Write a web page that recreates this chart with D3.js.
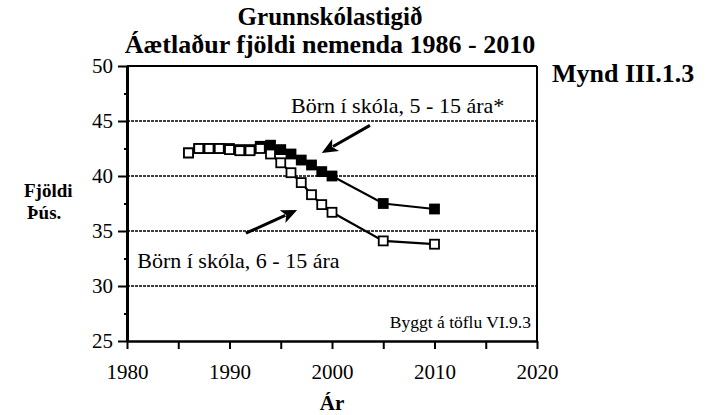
<!DOCTYPE html>
<html>
<head>
<meta charset="utf-8">
<script src="https://cdn.jsdelivr.net/npm/d3@7"></script>
<style>
  body { margin: 0; background: #fff; }
  text { font-family: "Liberation Serif", "Times New Roman", serif; fill: #000; }
</style>
</head>
<body>
<div id="chart-area"></div>
<script>
// data
const years = [1986, 1987, 1988, 1989, 1990, 1991, 1992, 1993, 1994, 1995, 1996, 1997, 1998, 1999, 2000, 2005, 2010];
const born5to15 = [42.1, 42.5, 42.5, 42.5, 42.5, 42.4, 42.4, 42.7, 42.8, 42.4, 42.0, 41.45, 41.0, 40.4, 40.0, 37.5, 37.0];
const born6to15 = [42.1, 42.5, 42.5, 42.5, 42.4, 42.3, 42.3, 42.5, 42.0, 41.2, 40.3, 39.4, 38.3, 37.4, 36.7, 34.1, 33.8];
const xTicks = [1980, 1990, 2000, 2010, 2020];
const yTicks = [25, 30, 35, 40, 45, 50];

// canvas
const canvasWidth = 714;
const canvasHeight = 415;
const margin = { top: 66, bottom: 74, left: 127, right: 177 };
const width = canvasWidth - margin.left - margin.right;
const height = canvasHeight - margin.top - margin.bottom;

const root = d3.select("#chart-area")
	.append("svg")
		.attr("width", canvasWidth)
		.attr("height", canvasHeight);

const svg = root.append("g")
	.attr("transform", `translate(${margin.left}, ${margin.top})`);

// scales
const xScale = d3.scaleLinear().domain([1980, 2020]).range([0, width]);
const yScale = d3.scaleLinear().domain([25, 50]).range([height, 0]);

// gridlines
svg.append("g")
	.selectAll("line")
	.data(yTicks.filter(d => d > 25 && d < 50))
	.enter().append("line")
		.attr("x1", 0).attr("x2", width)
		.attr("y1", d => yScale(d)).attr("y2", d => yScale(d))
		.attr("stroke", "#000")
		.attr("stroke-width", 1.6)
		.attr("stroke-dasharray", "3,1");

// frame top and right
svg.append("line")
	.attr("x1", 0).attr("x2", width)
	.attr("y1", 0).attr("y2", 0)
	.attr("stroke", "#000").attr("stroke-width", 2);
svg.append("line")
	.attr("x1", width).attr("x2", width)
	.attr("y1", 0).attr("y2", height)
	.attr("stroke", "#000").attr("stroke-width", 2);

// X axis
const xAxis = d3.axisBottom(xScale)
	.tickValues(d3.range(1980, 2021, 5))
	.tickSize(8)
	.tickSizeOuter(0)
	.tickFormat(d => xTicks.includes(d) ? d : "");

const gx = svg.append("g")
	.attr("transform", `translate(0,${height})`)
	.call(xAxis);
gx.select(".domain").attr("stroke-width", 2.5);
gx.selectAll(".tick line").attr("stroke-width", 2);
gx.selectAll(".tick text")
	.attr("font-family", "Liberation Serif")
	.attr("font-size", 21)
	.attr("y", 38)
	.attr("dy", 0);

// Y axis
const yAxis = d3.axisLeft(yScale)
	.tickValues(d3.range(25, 50.1, 2.5))
	.tickSize(8)
	.tickSizeOuter(0)
	.tickFormat(d => yTicks.includes(d) ? d : "");

const gy = svg.append("g").call(yAxis);
gy.select(".domain").attr("stroke-width", 3);
gy.selectAll(".tick line")
	.attr("stroke-width", 2)
	.attr("x1", d => yTicks.includes(d) ? 0 : 2)
	.attr("x2", d => yTicks.includes(d) ? -9 : -3);
gy.selectAll(".tick text")
	.attr("font-family", "Liberation Serif")
	.attr("font-size", 21)
	.attr("x", -14);

// lines
const line = d3.line()
	.x((d, i) => xScale(years[i]))
	.y(d => yScale(d));

const series = [
	{ values: born5to15, fill: "#000" },
	{ values: born6to15, fill: "#fff" }
];

series.forEach(s => {
	svg.append("path")
		.datum(s.values)
		.attr("d", line)
		.attr("fill", "none")
		.attr("stroke", "#000")
		.attr("stroke-width", 2.2);
});

series.forEach(s => {
	svg.append("g")
		.selectAll("rect")
		.data(s.values)
		.enter().append("rect")
			.attr("x", (d, i) => xScale(years[i]) - 4.5)
			.attr("y", d => yScale(d) - 4.5)
			.attr("width", 9)
			.attr("height", 9)
			.attr("fill", s.fill)
			.attr("stroke", "#000")
			.attr("stroke-width", 1.8);
});

// annotations with arrows
const arrows = [
	{ from: [2003.7, 44.6], to: [1999.0, 42.1] },
	{ from: [1991.6, 34.8], to: [1996.6, 36.9] }
];

arrows.forEach(a => {
	const x1 = xScale(a.from[0]), y1 = yScale(a.from[1]);
	const x2 = xScale(a.to[0]), y2 = yScale(a.to[1]);
	const ang = Math.atan2(y2 - y1, x2 - x1);
	const len = 16, wid = 7;
	const bx = x2 - len * Math.cos(ang), by = y2 - len * Math.sin(ang);
	svg.append("line")
		.attr("x1", x1).attr("y1", y1)
		.attr("x2", bx + 3 * Math.cos(ang)).attr("y2", by + 3 * Math.sin(ang))
		.attr("stroke", "#000").attr("stroke-width", 3);
	svg.append("polygon")
		.attr("points", [
			[x2, y2],
			[bx + wid * Math.sin(ang), by - wid * Math.cos(ang)],
			[bx + 4 * Math.cos(ang), by + 4 * Math.sin(ang)],
			[bx - wid * Math.sin(ang), by + wid * Math.cos(ang)]
		].map(p => p.join(",")).join(" "))
		.attr("fill", "#000");
});

svg.append("text")
	.attr("x", xScale(1996.0))
	.attr("y", yScale(45.7))
	.attr("font-size", 22)
	.text("Börn í skóla, 5 - 15 ára*");

svg.append("text")
	.attr("x", xScale(1981.0))
	.attr("y", yScale(31.6))
	.attr("font-size", 22)
	.text("Börn í skóla, 6 - 15 ára");

svg.append("text")
	.attr("x", width - 6)
	.attr("y", yScale(26.2))
	.attr("text-anchor", "end")
	.attr("font-size", 17.5)
	.text("Byggt á töflu VI.9.3");

// titles
root.append("text")
	.attr("x", 330).attr("y", 25)
	.attr("text-anchor", "middle")
	.attr("font-size", 25).attr("font-weight", "bold")
	.text("Grunnskólastigið");

root.append("text")
	.attr("x", 330).attr("y", 53)
	.attr("text-anchor", "middle")
	.attr("font-size", 26).attr("font-weight", "bold")
	.text("Áætlaður fjöldi nemenda 1986 - 2010");

root.append("text")
	.attr("x", 552).attr("y", 82)
	.attr("font-size", 26).attr("font-weight", "bold")
	.text("Mynd III.1.3");

root.append("text")
	.attr("x", 24).attr("y", 197)
	.attr("font-size", 19).attr("font-weight", "bold")
	.text("Fjöldi");

root.append("text")
	.attr("x", 27).attr("y", 219)
	.attr("font-size", 19).attr("font-weight", "bold")
	.text("Þús.");

root.append("text")
	.attr("x", margin.left + width / 2).attr("y", 410)
	.attr("text-anchor", "middle")
	.attr("font-size", 21).attr("font-weight", "bold")
	.text("Ár");
</script>
</body>
</html>
